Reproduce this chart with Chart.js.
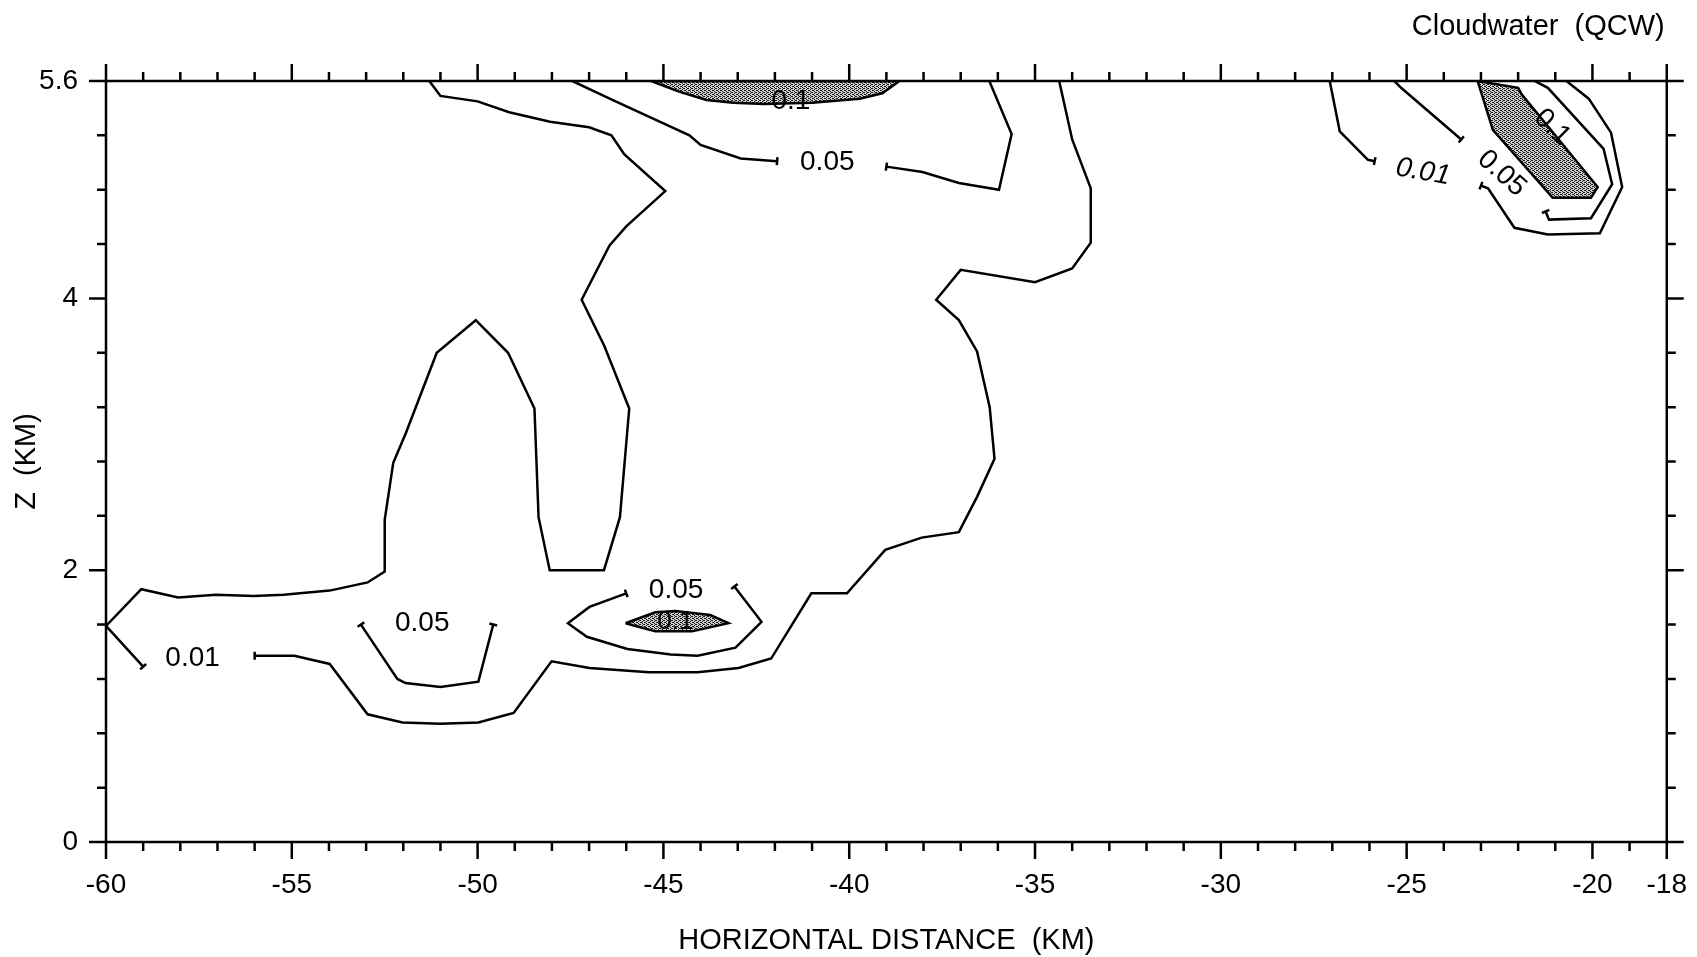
<!DOCTYPE html>
<html>
<head>
<meta charset="utf-8">
<script src="https://cdn.jsdelivr.net/npm/chart.js@4.4.1/dist/chart.umd.min.js"></script>
<style>
  html, body { margin: 0; padding: 0; background: #fff; }
</style>
</head>
<body>
<canvas id="qcwChart" width="1697" height="957"></canvas>
<script>
// axis ticks (km)
const xLabelTicks = [-60, -55, -50, -45, -40, -35, -30, -25, -20, -18];
const yLabelTicks = [0, 2, 4, 5.6];

// contour lines, x = horizontal distance (km), z = height (km)
// 0.01 contour: from top edge, around the tower, to the left label
const q01WestX = [-51.3, -51.0, -50.0, -49.15, -48.05, -47.0, -46.4, -46.05, -44.95, -46.0, -46.45, -47.2, -46.59, -45.92, -46.17, -46.6, -48.06, -48.36, -48.47, -49.18, -50.05, -51.1, -51.93, -52.27, -52.5, -52.5, -52.96, -53.98, -55.22, -56.02, -57.04, -58.06, -59.05, -60.0, -59.0];
const q01WestZ = [5.6, 5.49, 5.45, 5.37, 5.30, 5.26, 5.20, 5.06, 4.79, 4.53, 4.39, 3.99, 3.65, 3.19, 2.39, 2.0, 2.0, 2.39, 3.19, 3.60, 3.84, 3.60, 3.01, 2.79, 2.37, 1.99, 1.91, 1.85, 1.82, 1.81, 1.82, 1.80, 1.86, 1.59, 1.29];
// 0.01 contour: from the left label along the bottom and up to the top edge
const q01MainX = [-56.0, -54.93, -53.98, -52.96, -52.02, -51.0, -49.98, -49.03, -48.01, -46.99, -45.39, -44.08, -42.98, -42.1, -41.02, -40.06, -39.03, -38.05, -37.05, -36.56, -36.09, -36.22, -36.56, -37.05, -37.66, -37.0, -35.0, -34.0, -33.5, -33.5, -34.0, -34.35];
const q01MainZ = [1.37, 1.37, 1.31, 0.94, 0.88, 0.87, 0.88, 0.95, 1.33, 1.28, 1.25, 1.25, 1.28, 1.35, 1.83, 1.83, 2.15, 2.24, 2.28, 2.54, 2.82, 3.20, 3.61, 3.84, 3.99, 4.21, 4.12, 4.22, 4.41, 4.81, 5.17, 5.6];
// 0.05 contour near the top
const q05TopWestX = [-47.45, -46.36, -44.3, -44.0, -42.92, -41.94];
const q05TopWestZ = [5.6, 5.46, 5.20, 5.13, 5.03, 5.01];
const q05TopEastX = [-39.0, -38.03, -37.05, -35.97, -35.63, -36.23];
const q05TopEastZ = [4.97, 4.93, 4.85, 4.80, 5.21, 5.6];
// 0.1 region at the top
const q10TopX = [-45.33, -44.56, -43.84, -43.12, -42.3, -41.0, -39.72, -39.11, -38.65, -45.33];
const q10TopZ = [5.6, 5.52, 5.46, 5.44, 5.43, 5.44, 5.47, 5.51, 5.6, 5.6];
// 0.05 contours low on the left
const q05LowX = [-53.14, -52.16, -51.94, -51.0, -49.98, -49.58];
const q05LowZ = [1.60, 1.20, 1.17, 1.14, 1.18, 1.60];
const q05MidX = [-46.0, -46.99, -47.57, -47.06, -45.97, -44.8, -44.08, -43.06, -42.36, -43.09];
const q05MidZ = [1.83, 1.73, 1.61, 1.51, 1.42, 1.38, 1.37, 1.43, 1.62, 1.88];
// small 0.1 region
const q10MidX = [-46.02, -45.22, -44.68, -43.74, -43.25, -44.23, -45.22, -46.02];
const q10MidZ = [1.61, 1.69, 1.70, 1.67, 1.61, 1.55, 1.55, 1.61];
// north-east corner
const q01NeWestX = [-27.07, -26.8, -26.04, -25.86];
const q01NeWestZ = [5.6, 5.23, 5.02, 5.01];
const q01NeEastX = [-23.53, -25.15, -25.33];
const q01NeEastZ = [5.17, 5.55, 5.6];
const q05NeOuterX = [-20.7, -20.1, -19.5, -19.2, -19.8, -21.2, -22.1, -22.81, -23.0];
const q05NeOuterZ = [5.6, 5.47, 5.22, 4.82, 4.48, 4.47, 4.52, 4.81, 4.83];
const q05NeInnerX = [-21.56, -21.2, -19.7, -19.47, -20.04, -21.17, -21.26];
const q05NeInnerZ = [5.6, 5.55, 5.1, 4.84, 4.59, 4.58, 4.64];
const q10NeX = [-23.09, -22.0, -21.9, -19.86, -20.04, -21.07, -22.68, -23.09];
const q10NeZ = [5.6, 5.55, 5.50, 4.82, 4.74, 4.74, 5.24, 5.6];

// contour labels
const labelText = ['0.01', '0.05', '0.05', '0.05', '0.1', '0.1', '0.01', '0.05', '0.1'];
const labelX = [-57.67, -51.49, -44.66, -40.59, -41.57, -44.68, -24.56, -22.44, -21.08];
const labelZ = [1.35, 1.61, 1.85, 5.0, 5.45, 1.62, 4.93, 4.92, 5.26];

const FONT = "'Liberation Sans', Arial, Helvetica, sans-serif";
const labelStyle = [
  {}, {}, {}, {}, {}, {size: 26}, {rot: 10, italic: true}, {rot: 42}, {rot: 45}
];

function pts(xs, zs) {
  return xs.map((x, i) => ({ x: x, y: zs[i] }));
}

// dotted grey fill like the printed screen tone
function makeStipple() {
  const c = document.createElement('canvas');
  c.width = 4; c.height = 4;
  const g = c.getContext('2d');
  g.fillStyle = '#d0d0d0';
  g.fillRect(0, 0, 4, 4);
  g.fillStyle = '#151515';
  [[0, 0], [2, 1], [0, 2], [2, 3], [3, 0], [1, 2]].forEach(p => g.fillRect(p[0], p[1], 1, 1));
  return g.createPattern(c, 'repeat');
}

const ctx = document.getElementById('qcwChart').getContext('2d');
const stipple = makeStipple();

function line(xs, zs, hooks) {
  return {
    data: pts(xs, zs), showLine: true, fill: false, hooks: hooks,
    borderColor: '#000', borderWidth: 2.5, pointRadius: 0, tension: 0
  };
}
function shade(xs, zs) {
  return {
    data: pts(xs, zs), showLine: true, fill: 'shape', backgroundColor: stipple,
    borderColor: '#000', borderWidth: 2.5, pointRadius: 0, tension: 0
  };
}

// ticks, frame, contour hooks, labels and the title
const decorPlugin = {
  id: 'decor',
  afterDatasetsDraw(chart) {
    const c = chart.ctx;
    const a = chart.chartArea;
    const xs = chart.scales.x, ys = chart.scales.y;
    c.save();
    c.strokeStyle = '#000';
    c.lineWidth = 2.5;

    // hooks at the ends of lines that stop at a label
    c.beginPath();
    chart.data.datasets.forEach((ds, i) => {
      if (!ds.hooks) return;
      const el = chart.getDatasetMeta(i).data;
      const ends = ds.hooks === 'both' ? ['start', 'end'] : [ds.hooks];
      ends.forEach(e => {
        const p = e === 'start' ? el[0] : el[el.length - 1];
        const q = e === 'start' ? el[1] : el[el.length - 2];
        const dx = p.x - q.x, dy = p.y - q.y;
        const len = Math.hypot(dx, dy) || 1;
        const nx = -dy / len * 4, ny = dx / len * 4;
        c.moveTo(p.x - nx, p.y - ny);
        c.lineTo(p.x + nx, p.y + ny);
      });
    });
    c.stroke();

    // frame
    c.strokeRect(a.left, a.top, a.right - a.left, a.bottom - a.top);

    // ticks
    c.beginPath();
    for (let v = -60; v <= -18; v++) {
      const px = xs.getPixelForValue(v);
      const len = (v % 5 === 0 || v === -18) ? 17 : 9;
      c.moveTo(px, a.bottom); c.lineTo(px, a.bottom + len);
      c.moveTo(px, a.top); c.lineTo(px, a.top - len);
    }
    for (let k = 0; k <= 14; k++) {
      const v = Math.round(k * 4) / 10;
      const py = ys.getPixelForValue(v);
      const len = yLabelTicks.includes(v) ? 17 : 9;
      c.moveTo(a.left, py); c.lineTo(a.left - len, py);
      c.moveTo(a.right, py); c.lineTo(a.right + len, py);
    }
    c.stroke();

    // contour labels
    c.fillStyle = '#000';
    c.textAlign = 'center';
    c.textBaseline = 'middle';
    labelText.forEach((t, i) => {
      const st = labelStyle[i] || {};
      c.save();
      c.translate(xs.getPixelForValue(labelX[i]), ys.getPixelForValue(labelZ[i]));
      if (st.rot) c.rotate(st.rot * Math.PI / 180);
      c.font = (st.italic ? 'italic ' : '') + (st.size || 28) + 'px ' + FONT;
      c.fillText(t, 0, 0);
      c.restore();
    });

    // title
    c.font = '29px ' + FONT;
    c.textAlign = 'right';
    c.fillText('Cloudwater  (QCW)', a.right - 2, 27);
    c.restore();
  }
};

new Chart(ctx, {
  type: 'scatter',
  data: {
    datasets: [
      shade(q10TopX, q10TopZ),
      shade(q10MidX, q10MidZ),
      shade(q10NeX, q10NeZ),
      line(q01WestX, q01WestZ, 'end'),
      line(q01MainX, q01MainZ, 'start'),
      line(q05TopWestX, q05TopWestZ, 'end'),
      line(q05TopEastX, q05TopEastZ, 'start'),
      line(q05LowX, q05LowZ, 'both'),
      line(q05MidX, q05MidZ, 'both'),
      line(q01NeWestX, q01NeWestZ, 'end'),
      line(q01NeEastX, q01NeEastZ, 'start'),
      line(q05NeOuterX, q05NeOuterZ, 'end'),
      line(q05NeInnerX, q05NeInnerZ, 'end')
    ]
  },
  options: {
    responsive: false,
    animation: false,
    devicePixelRatio: 1,
    layout: { padding: { top: 81, right: 30, left: 0, bottom: 0 } },
    plugins: { legend: { display: false }, tooltip: { enabled: false } },
    scales: {
      x: {
        type: 'linear', min: -60, max: -18,
        afterBuildTicks: s => { s.ticks = xLabelTicks.map(v => ({ value: v })); },
        afterFit: s => { s.height = 115; },
        grid: { display: true, drawOnChartArea: false, drawTicks: true, tickLength: 16, color: 'rgba(0,0,0,0)', tickColor: 'rgba(0,0,0,0)' },
        border: { display: false },
        ticks: { autoSkip: false, maxRotation: 0, padding: 10, color: '#000', font: { family: FONT, size: 28 }, callback: v => String(v) },
        title: { display: true, text: 'HORIZONTAL DISTANCE  (KM)', color: '#000', font: { family: FONT, size: 29, lineHeight: 1 }, padding: { top: 0, bottom: 2 } }
      },
      y: {
        type: 'linear', min: 0, max: 5.6,
        afterBuildTicks: s => { s.ticks = yLabelTicks.map(v => ({ value: v })); },
        afterFit: s => { s.width = 106; },
        grid: { display: false, drawTicks: false },
        border: { display: false },
        ticks: { autoSkip: false, padding: 28, color: '#000', font: { family: FONT, size: 28 }, callback: v => String(v) },
        title: { display: true, text: 'Z  (KM)', color: '#000', font: { family: FONT, size: 29 }, padding: { top: 10, bottom: 0 } }
      }
    }
  },
  plugins: [decorPlugin]
});
</script>
</body>
</html>
